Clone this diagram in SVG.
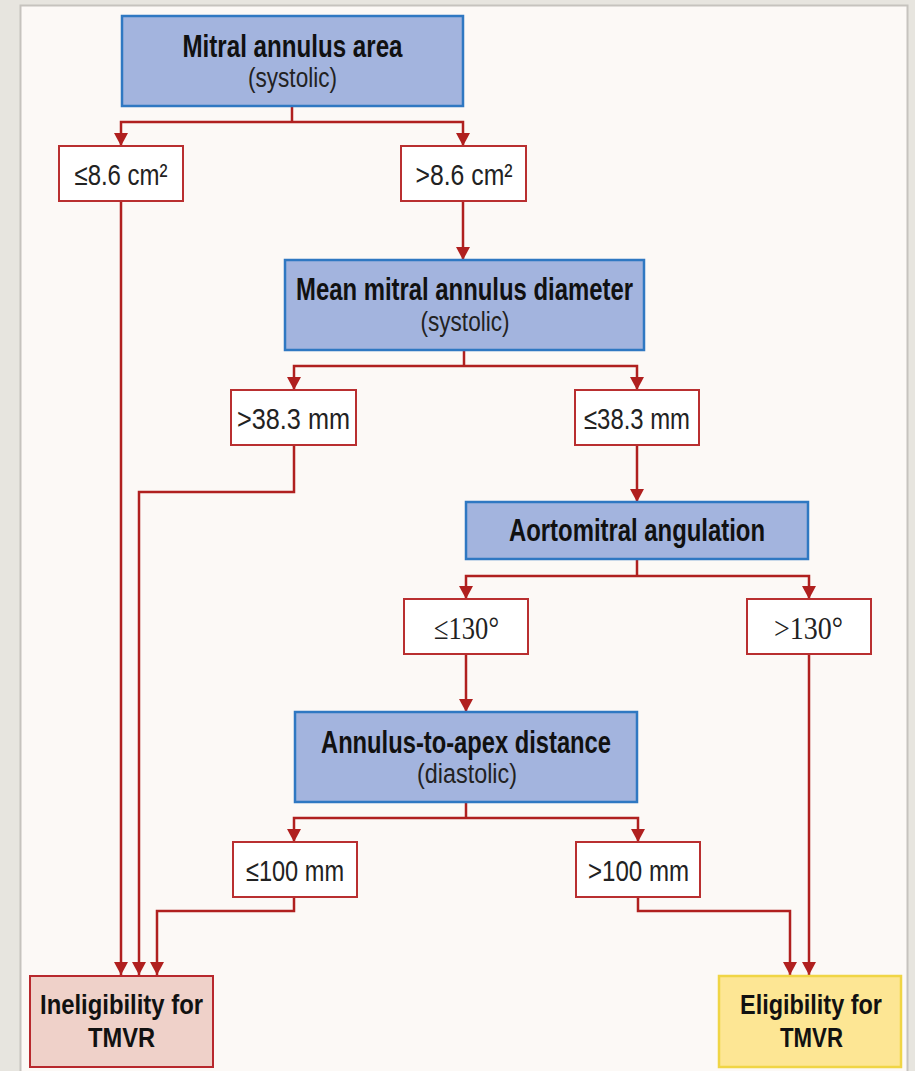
<svg xmlns="http://www.w3.org/2000/svg" width="915" height="1071" viewBox="0 0 915 1071">
  <style>
    .q { fill: #a3b4de; stroke: #2f78c2; stroke-width: 2.5; }
    .lab { fill: #ffffff; stroke: #b92f30; stroke-width: 2; }
    .no { fill: #efd1c9; stroke: #b8282d; stroke-width: 2; }
    .yes { fill: #fde694; stroke: #f0d545; stroke-width: 2.5; }
    .ttl { font-family: "Liberation Sans", Arial, sans-serif; font-weight: bold; font-size: 31px; fill: #111; text-anchor: middle; }
    .out { font-family: "Liberation Sans", Arial, sans-serif; font-weight: bold; font-size: 27px; fill: #111; text-anchor: middle; }
    .sub { font-family: "Liberation Sans", Arial, sans-serif; font-size: 27px; fill: #222; text-anchor: middle; }
    .val { font-family: "Liberation Sans", Arial, sans-serif; font-size: 30px; fill: #222; text-anchor: middle; }
    .deg { font-family: "Liberation Serif", "Times New Roman", serif; font-size: 32px; fill: #222; text-anchor: middle; }
    .wire { fill: none; stroke: #b0201f; stroke-width: 2.5; }
  </style>
  <defs>
    <marker id="head" markerUnits="userSpaceOnUse" markerWidth="16" markerHeight="16" viewBox="0 0 16 16" refX="8" refY="15" orient="0">
      <path d="M1,2 L15,2 L8,15 Z" fill="#b0201f"/>
    </marker>
  </defs>

  <!-- page and panel -->
  <rect x="0" y="0" width="915" height="1071" fill="#e7e5df"/>
  <rect x="20.5" y="5.5" width="887" height="1085" fill="#fcf9f6" stroke="#c6c3be" stroke-width="2"/>

  <!-- connectors -->
  <g id="connectors" class="wire">
    <path d="M292,106 V122"/>
    <path d="M292,122 H121 V146" marker-end="url(#head)"/>
    <path d="M292,122 H463 V146" marker-end="url(#head)"/>
    <path d="M463,201 V260" marker-end="url(#head)"/>
    <path d="M121,201 V975" marker-end="url(#head)"/>

    <path d="M464,350 V366"/>
    <path d="M464,366 H294 V390" marker-end="url(#head)"/>
    <path d="M464,366 H637 V390" marker-end="url(#head)"/>
    <path d="M294,445 V492 H139 V975" marker-end="url(#head)"/>
    <path d="M637,445 V502" marker-end="url(#head)"/>

    <path d="M637,559 V576"/>
    <path d="M637,576 H466 V599" marker-end="url(#head)"/>
    <path d="M637,576 H809 V599" marker-end="url(#head)"/>
    <path d="M466,654 V712" marker-end="url(#head)"/>
    <path d="M809,654 V975" marker-end="url(#head)"/>

    <path d="M466,802 V818"/>
    <path d="M466,818 H294 V842" marker-end="url(#head)"/>
    <path d="M466,818 H638 V842" marker-end="url(#head)"/>
    <path d="M294,897 V911 H157 V975" marker-end="url(#head)"/>
    <path d="M638,897 V911 H790 V975" marker-end="url(#head)"/>
  </g>

  <!-- decision nodes -->
  <g id="mitral-area">
    <rect class="q" x="122" y="16" width="341" height="90"/>
    <text class="ttl" x="292.5" y="57" textLength="220" lengthAdjust="spacingAndGlyphs">Mitral annulus area</text>
    <text class="sub" x="292.5" y="87" textLength="89" lengthAdjust="spacingAndGlyphs">(systolic)</text>
  </g>
  <g id="area-low">
    <rect class="lab" x="59" y="146" width="124" height="55"/>
    <text class="val" x="121" y="185" textLength="93" lengthAdjust="spacingAndGlyphs">≤8.6 cm²</text>
  </g>
  <g id="area-high">
    <rect class="lab" x="401" y="146" width="125" height="55"/>
    <text class="val" x="464" y="185" textLength="97" lengthAdjust="spacingAndGlyphs">&gt;8.6 cm²</text>
  </g>

  <g id="mean-diameter">
    <rect class="q" x="285" y="260" width="359" height="90"/>
    <text class="ttl" x="464.5" y="300" textLength="337" lengthAdjust="spacingAndGlyphs">Mean mitral annulus diameter</text>
    <text class="sub" x="465" y="331" textLength="89" lengthAdjust="spacingAndGlyphs">(systolic)</text>
  </g>
  <g id="diameter-high">
    <rect class="lab" x="231" y="390" width="125" height="55"/>
    <text class="val" x="293.5" y="429" textLength="113" lengthAdjust="spacingAndGlyphs">&gt;38.3 mm</text>
  </g>
  <g id="diameter-low">
    <rect class="lab" x="575" y="390" width="124" height="55"/>
    <text class="val" x="637" y="429" textLength="106" lengthAdjust="spacingAndGlyphs">≤38.3 mm</text>
  </g>

  <g id="aortomitral">
    <rect class="q" x="466" y="502" width="342" height="57"/>
    <text class="ttl" x="637" y="541" textLength="256" lengthAdjust="spacingAndGlyphs">Aortomitral angulation</text>
  </g>
  <g id="angle-low">
    <rect class="lab" x="404" y="599" width="124" height="55"/>
    <text class="deg" x="466.5" y="639" textLength="65" lengthAdjust="spacingAndGlyphs">≤130°</text>
  </g>
  <g id="angle-high">
    <rect class="lab" x="747" y="599" width="124" height="55"/>
    <text class="deg" x="808.5" y="639" textLength="69" lengthAdjust="spacingAndGlyphs">&gt;130°</text>
  </g>

  <g id="apex-distance">
    <rect class="q" x="295" y="712" width="342" height="90"/>
    <text class="ttl" x="466" y="753" textLength="290" lengthAdjust="spacingAndGlyphs">Annulus-to-apex distance</text>
    <text class="sub" x="467" y="783" textLength="100" lengthAdjust="spacingAndGlyphs">(diastolic)</text>
  </g>
  <g id="distance-low">
    <rect class="lab" x="233" y="842" width="124" height="55"/>
    <text class="val" x="295" y="881" textLength="98" lengthAdjust="spacingAndGlyphs">≤100 mm</text>
  </g>
  <g id="distance-high">
    <rect class="lab" x="576" y="842" width="124" height="55"/>
    <text class="val" x="638.5" y="881" textLength="101" lengthAdjust="spacingAndGlyphs">&gt;100 mm</text>
  </g>

  <!-- outcomes -->
  <g id="ineligible">
    <rect class="no" x="30" y="976" width="183" height="91"/>
    <text class="out" x="121.5" y="1014" textLength="163" lengthAdjust="spacingAndGlyphs">Ineligibility for</text>
    <text class="out" x="121.5" y="1047" textLength="67" lengthAdjust="spacingAndGlyphs">TMVR</text>
  </g>
  <g id="eligible">
    <rect class="yes" x="719" y="976" width="182" height="91"/>
    <text class="out" x="811" y="1014" textLength="142" lengthAdjust="spacingAndGlyphs">Eligibility for</text>
    <text class="out" x="811.5" y="1047" textLength="63" lengthAdjust="spacingAndGlyphs">TMVR</text>
  </g>
</svg>
